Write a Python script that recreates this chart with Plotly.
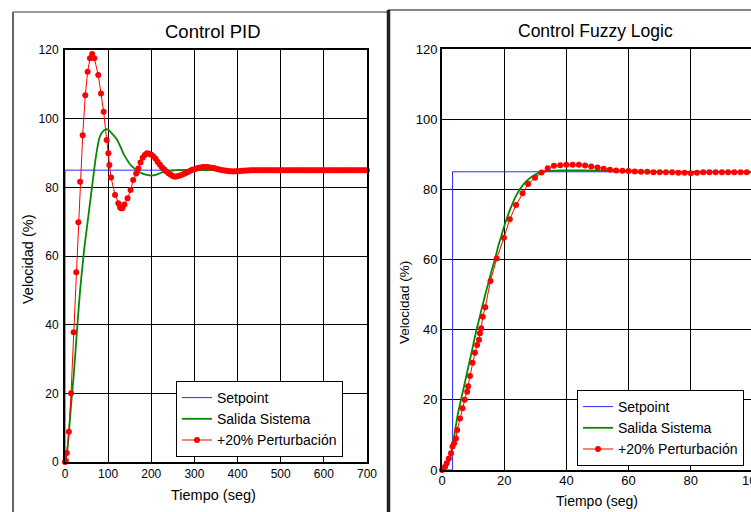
import plotly.graph_objects as go

# ---------------- DATA ----------------
# PID panel
pid_set_t = [0, 0, 700]
pid_set_v = [0, 85, 85]

pid_out_t = [0, 5, 10, 15, 20, 25, 30, 35, 40, 45, 50, 55, 60, 65, 70, 75, 80, 85, 90, 95,
             100, 105, 110, 115, 120, 130, 135, 140, 150, 160, 170, 180, 190, 200, 210, 220,
             230, 240, 250, 260, 275, 300, 350, 400, 500, 600, 700]
pid_out_v = [0, 3, 10, 18, 25, 33.5, 42, 50, 56.5, 62.5, 67.5, 72.5, 77.5, 82.5, 87.5, 91.5,
             94.5, 95.8, 96.6, 96.9, 96.8, 96.2, 95.5, 94.8, 94.0, 91.4, 89.9, 88.8, 86.8, 85.6,
             84.6, 84.0, 83.6, 83.4, 83.6, 84.1, 84.5, 84.8, 84.9, 85.0, 85.1, 85.1, 85.0, 85.0,
             85.0, 85.0, 85.0]

pid_pert_t = [0, 2, 4, 9, 14, 20, 26, 31, 35, 41, 47, 52.5, 58, 63, 68, 77, 83.5, 89.6, 96.6,
              100.5, 102.8, 106.6, 116, 123.6, 127.5, 130, 133, 137.6, 145, 152, 158,
              165, 170, 175, 180, 185, 190, 195, 200, 205, 210, 215, 220, 225, 230, 235, 240,
              245, 250, 255, 260, 265, 270, 275, 280, 285, 290, 295, 300, 305, 310, 315, 320,
              325, 330, 335, 340, 345, 350, 355, 360, 365, 370, 375, 380, 385, 390, 395, 400,
              405, 410, 415, 420, 425, 430, 435, 440, 445, 450, 455, 460, 465, 470, 475, 480,
              485, 490, 495, 500, 505, 510, 515, 520, 525, 530, 535, 540, 545, 550, 555, 560,
              565, 570, 575, 580, 585, 590, 595, 600, 605, 610, 615, 620, 625, 630, 635, 640,
              645, 650, 655, 660, 665, 670, 675, 680, 685, 690, 695, 700]
pid_pert_v = [0, 0.4, 2.6, 8.8, 20, 37.8, 55.3, 69.8, 81.6, 95.2, 106.8, 113.7, 117.6, 118.8,
              117.6, 112.7, 107.3, 102, 93.8, 89.9, 86.5, 82.9, 77.8, 75.4, 74.2, 73.9, 73.9,
              75.0, 76.8, 79.2, 82.1,
              84.0, 85.5, 87.2, 88.6, 89.4, 89.9, 89.8, 89.5, 89.0, 88.3, 87.4, 86.6, 85.8, 85.2,
              84.6, 84.1, 83.7, 83.3, 83.1, 83.2, 83.4, 83.6, 83.9, 84.2, 84.5, 84.8, 85.1, 85.3,
              85.5, 85.7, 85.8, 85.9, 85.9, 85.9, 85.8, 85.7, 85.6, 85.4, 85.3, 85.1, 85.0, 84.9,
              84.8, 84.7, 84.7, 84.6, 84.7, 84.7, 84.7, 84.8, 84.8, 84.9, 84.9, 85.0, 85.0, 85.0,
              85.0, 85.0, 85.0, 85.0, 85.0, 85.0, 85.0, 85.0, 85.0, 85.0, 85.0, 85.0, 85.0, 85.0,
              85.0, 85.0, 85.0, 85.0, 85.0, 85.0, 85.0, 85.0, 85.0, 85.0, 85.0, 85.0, 85.0, 85.0,
              85.0, 85.0, 85.0, 85.0, 85.0, 85.0, 85.0, 85.0, 85.0, 85.0, 85.0, 85.0, 85.0, 85.0,
              85.0, 85.0, 85.0, 85.0, 85.0, 85.0, 85.0, 85.0, 85.0, 85.0, 85.0, 85.0, 85.0]

# Fuzzy panel
fz_set_t = [0, 3.4, 3.4, 100]
fz_set_v = [0, 0, 85, 85]

fz_out_t = [0, 1, 2, 3, 4, 5, 6, 7, 8, 9, 10, 11, 12, 13, 14, 15, 16, 17, 18, 19, 20, 22, 24,
            26, 28, 30, 32, 34, 36, 40, 50, 60, 70, 100]
fz_out_v = [0, 0.5, 2, 5, 10, 15.5, 19.6, 23.5, 27.5, 31.5, 35.5, 39.6, 43.2, 46.8, 50.3, 53.6,
            57, 60, 63.5, 66.5, 69.5, 74.5, 78.5, 81.2, 83, 84.2, 84.9, 85.2, 85.3, 85.4, 85.3,
            85.1, 85.0, 85.0]

fz_pert_t = [0, 0.4, 1.0, 1.5, 2.2, 2.9, 3.4, 3.9, 4.5, 4.9, 5.8, 6.6, 7.3, 8.1, 8.4, 9.0, 9.8,
             10.6, 11.3, 11.9, 12.2, 12.6, 13.1, 13.9, 15.6, 17.6, 19.9, 21.8, 23.8, 25.9, 27.7,
             29.9, 32, 34, 36, 38, 40, 42, 44, 46, 48, 50, 52, 54, 56, 58, 60, 62, 64, 66, 68,
             70, 72, 74, 76, 78, 80, 82, 84, 86, 88, 90, 92, 94, 96, 98, 100]
fz_pert_v = [0, 0.5, 0.95, 1.9, 3.3, 4.8, 6.7, 7.6, 9.0, 11.4, 14.7, 17.6, 20, 22.3, 23.9, 26.8,
             30.6, 33.4, 35.6, 37.1, 39, 40.4, 43.7, 46.4, 53.9, 60.3, 66.2, 71.5, 75.5, 78.9,
             81.5, 83.3, 84.8, 86.0, 86.7, 86.9, 87.0, 87.0, 87.0, 86.8, 86.5, 86.2, 85.9, 85.6,
             85.4, 85.3, 85.2, 85.1, 85.0, 85.0, 84.9, 84.9, 84.9, 84.9, 84.7, 84.7, 84.6, 84.7,
             84.9, 84.9, 84.9, 84.9, 84.9, 84.9, 84.9, 84.9, 84.9]

y_ticks = [0, 20, 40, 60, 80, 100, 120]
pid_x_ticks = [0, 100, 200, 300, 400, 500, 600, 700]
fz_x_ticks = [0, 20, 40, 60, 80]

names = ["Setpoint", "Salida Sistema", "+20% Perturbación"]

# ---------------- LAYOUT HELPERS ----------------
W, H = 751, 512
FONT = "Arial, Liberation Sans, sans-serif"


def px(x):
    return x / W


def py(y):
    return 1 - y / H


BLUE = "#2a2aff"
GREEN = "#008a00"
RED = "#ff0000"

fig = go.Figure()

# PID traces
fig.add_trace(go.Scatter(x=pid_set_t, y=pid_set_v, mode="lines", name=names[0],
                         line=dict(color=BLUE, width=1), xaxis="x", yaxis="y", legend="legend"))
fig.add_trace(go.Scatter(x=pid_out_t, y=pid_out_v, mode="lines", name=names[1],
                         line=dict(color=GREEN, width=1.8, shape="spline", smoothing=0.6),
                         xaxis="x", yaxis="y", legend="legend"))
fig.add_trace(go.Scatter(x=pid_pert_t, y=pid_pert_v, mode="lines+markers", name=names[2],
                         line=dict(color=RED, width=1), marker=dict(color=RED, size=6),
                         cliponaxis=False, xaxis="x", yaxis="y", legend="legend"))

# Fuzzy traces
fig.add_trace(go.Scatter(x=fz_set_t, y=fz_set_v, mode="lines", name=names[0],
                         line=dict(color=BLUE, width=1), xaxis="x2", yaxis="y2", legend="legend2"))
fig.add_trace(go.Scatter(x=fz_out_t, y=fz_out_v, mode="lines", name=names[1],
                         line=dict(color=GREEN, width=1.8, shape="spline", smoothing=0.6),
                         xaxis="x2", yaxis="y2", legend="legend2"))
fig.add_trace(go.Scatter(x=fz_pert_t, y=fz_pert_v, mode="lines+markers", name=names[2],
                         line=dict(color=RED, width=1), marker=dict(color=RED, size=6),
                         cliponaxis=False, xaxis="x2", yaxis="y2", legend="legend2"))

axis_common = dict(showgrid=True, gridcolor="black", gridwidth=1.4, zeroline=False,
                   showline=True, linecolor="black", linewidth=2, ticks="", automargin=False,
                   tickfont=dict(family=FONT, size=12, color="black"))

legend_common = dict(bgcolor="white", bordercolor="black", borderwidth=1,
                     font=dict(family=FONT, size=14, color="black"),
                     xanchor="left", yanchor="top", itemwidth=30, tracegroupgap=0)

fig.update_layout(
    template="none",
    width=W, height=H,
    margin=dict(l=0, r=0, t=0, b=0, pad=0, autoexpand=False),
    paper_bgcolor="white", plot_bgcolor="white",
    font=dict(family=FONT, color="black"),
    xaxis=dict(domain=[px(65), px(367)], range=[0, 700], tickvals=pid_x_ticks,
               anchor="y", mirror=True, **axis_common),
    yaxis=dict(domain=[py(462), py(50)], range=[0, 120], tickvals=y_ticks,
               anchor="x", mirror=True, ticklabelstandoff=2, **axis_common),
    xaxis2=dict(domain=[px(442), 1.0], range=[0, 99.36], tickvals=fz_x_ticks,
                anchor="y2", mirror=True, ticklabelstandoff=-3,
                **{**axis_common, "tickfont": dict(family=FONT, size=13, color="black")}),
    yaxis2=dict(domain=[py(470), py(49)], range=[0, 120], tickvals=y_ticks,
                anchor="x2", mirror=False,
                **{**axis_common, "tickfont": dict(family=FONT, size=13, color="black")}),
    legend=dict(x=px(176), y=py(381), **legend_common),
    legend2=dict(x=px(577), y=py(390), **legend_common),
    showlegend=True,
)

annotations = [
    dict(text="Control PID", x=px(213), y=py(31), font=dict(size=18.5)),
    dict(text="Control Fuzzy Logic", x=px(595), y=py(31), font=dict(size=17.5)),
    dict(text="Tiempo (seg)", x=px(214), y=py(495), font=dict(size=14.5)),
    dict(text="Tiempo (seg)", x=px(597), y=py(501), font=dict(size=14)),
    dict(text="Velocidad (%)", x=px(28), y=py(260), font=dict(size=14.5), textangle=-90),
    dict(text="Velocidad (%)", x=px(404), y=py(303), font=dict(size=13.5), textangle=-90),
    dict(text="100", x=px(753), y=py(480), font=dict(size=13)),
]
for a in annotations:
    a.update(xref="paper", yref="paper", showarrow=False, xanchor="center", yanchor="middle")
    a["font"].update(family=FONT, color="black")
fig.update_layout(annotations=annotations)

shapes = [
    dict(x0=px(13), x1=px(13), y0=py(12), y1=py(512), line=dict(color="#333333", width=1.5)),
    dict(x0=px(13), x1=px(387), y0=py(12), y1=py(12), line=dict(color="#777777", width=1.5)),
    dict(x0=px(388.5), x1=px(388.5), y0=py(10), y1=py(512), line=dict(color="#222222", width=3.5)),
    dict(x0=px(388), x1=1, y0=py(10), y1=py(10), line=dict(color="#111111", width=1.2)),
]
for s in shapes:
    s.update(type="line", xref="paper", yref="paper")
fig.update_layout(shapes=shapes)

post = ("document.documentElement.style.margin='0';document.body.style.margin='0';"
        "document.body.style.padding='0';document.documentElement.style.overflow='hidden';"
        "document.body.style.overflow='hidden';")
fig.write_html("out.html", post_script=post, config={"displayModeBar": False})
